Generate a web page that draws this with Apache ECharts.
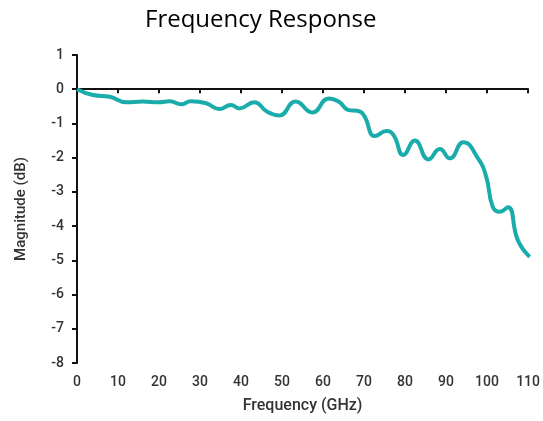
<!DOCTYPE html>
<html><head><meta charset="utf-8">
<script src="https://cdn.jsdelivr.net/npm/echarts@6/dist/echarts.min.js"></script>
<style>html,body{margin:0;padding:0;background:#fff}#c{width:543px;height:421px}</style>
</head><body><div id="c"></div>
<script>
var freqGHz = [0, 3.9, 8, 12, 16, 20, 22.6, 25.4, 27.8, 31.5, 34.7, 37.5, 39.6, 43.2, 46.4, 49.3, 53.3, 57.4, 61.4, 63.8, 66.3, 68.3, 69.9, 72.7, 75.5, 77.2, 79.6, 82.4, 85.7, 88.5, 90.9, 94.2, 97.8, 99.8, 101.4, 103.1, 105.1, 107.5, 110.4];
var magnitudeDb = [0, -0.17, -0.22, -0.38, -0.36, -0.38, -0.35, -0.44, -0.35, -0.41, -0.58, -0.46, -0.56, -0.38, -0.66, -0.77, -0.36, -0.68, -0.27, -0.36, -0.61, -0.63, -0.75, -1.37, -1.22, -1.34, -1.92, -1.5, -2.05, -1.75, -2.02, -1.55, -2.02, -2.56, -3.44, -3.58, -3.45, -4.41, -4.9];
var xTicks = [0,10,20,30,40,50,60,70,80,90,100,110];
var yTicks = [1,0,-1,-2,-3,-4,-5,-6,-7,-8];

var pts = freqGHz.map(function(f,i){return [f, magnitudeDb[i]];});
var chart = echarts.init(document.getElementById('c'));
var lab = {color:'#333', fontFamily:'Roboto', fontSize:14, fontWeight:500};
chart.setOption({
  animation:false,
  title:{text:'Frequency Response', left:140, top:3, textStyle:{fontFamily:'Open Sans', fontSize:24, fontWeight:'normal', color:'#000'}},
  grid:{left:77, right:13, top:55, bottom:58},
  xAxis:{type:'value', min:0, max:110, interval:10,
    name:'Frequency (GHz)', nameLocation:'middle', nameGap:35,
    nameTextStyle:{color:'#333', fontFamily:'Roboto', fontSize:16, fontWeight:500},
    axisLine:{lineStyle:{color:'#111', width:2}},
    axisTick:{show:true, length:4, lineStyle:{color:'#111', width:2}},
    axisLabel:Object.assign({margin:12}, lab),
    splitLine:{show:false}},
  yAxis:{type:'value', min:-8, max:1, interval:1,
    name:'Magnitude (dB)', nameLocation:'middle', nameGap:48,
    nameTextStyle:{color:'#333', fontFamily:'Roboto', fontSize:15, fontWeight:500},
    axisLine:{show:true, lineStyle:{color:'#111', width:2}},
    axisTick:{show:true, length:5, lineStyle:{color:'#111', width:2}},
    axisLabel:Object.assign({margin:13}, lab),
    splitLine:{show:false}},
  series:[{type:'line', data:pts, smooth:0.5, symbol:'none',
    lineStyle:{color:'#1aabab', width:4}}]
});
</script></body></html>
